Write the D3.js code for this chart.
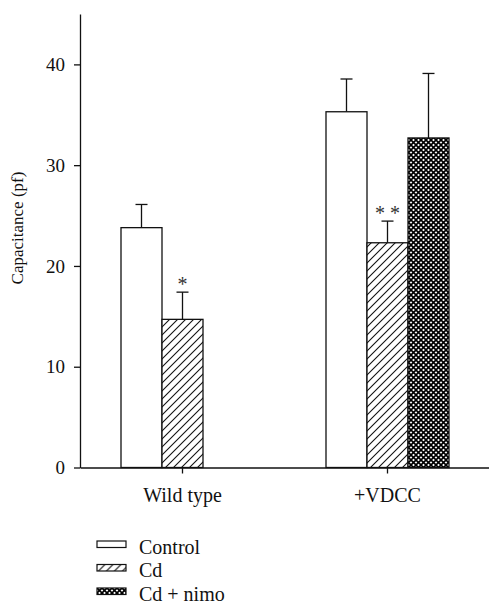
<!DOCTYPE html>
<html>
<head>
<meta charset="utf-8">
<script src="https://cdn.jsdelivr.net/npm/d3@7"></script>
<style>
  html, body { margin: 0; padding: 0; background: #fff; }
  svg { display: block; }
  svg text { font-family: "Liberation Serif", "Tinos", "Times New Roman", serif !important; }
</style>
</head>
<body>
<svg id="chart" width="489" height="609"></svg>
<script>
// ---- data ----
const categories = ["Wild type", "+VDCC"];
const seriesNames = ["Control", "Cd", "Cd + nimo"];
const controlValues = [23.8, 35.3];
const controlErrors = [2.3, 3.25];
const cdValues = [14.7, 22.3];
const cdErrors = [2.7, 2.15];
const nimoValues = [null, 32.7];
const nimoErrors = [null, 6.4];
const significance = [["", "*", ""], ["", "* *", ""]];
const yTicks = [0, 10, 20, 30, 40];
const yLabel = "Capacitance (pf)";

const seriesValues = [controlValues, cdValues, nimoValues];
const seriesErrors = [controlErrors, cdErrors, nimoErrors];

const svg = d3.select("#chart");
const defs = svg.append("defs");

// patterns
const hatch = defs.append("pattern").attr("id", "hatch")
  .attr("patternUnits", "userSpaceOnUse").attr("width", 8).attr("height", 8);
hatch.append("rect").attr("width", 8).attr("height", 8).attr("fill", "#fff");
hatch.append("path").attr("d", "M-2,2 L2,-2 M0,8 L8,0 M6,10 L10,6")
  .attr("stroke", "#111").attr("stroke-width", 1.1);

const cross = defs.append("pattern").attr("id", "cross")
  .attr("patternUnits", "userSpaceOnUse").attr("width", 5).attr("height", 5);
cross.append("rect").attr("width", 5).attr("height", 5).attr("fill", "#fff");
cross.append("path").attr("d", "M0,0 L5,5 M0,5 L5,0")
  .attr("stroke", "#000").attr("stroke-width", 1.6);

const fills = ["#fff", "url(#hatch)", "url(#cross)"];

// scales
const x0 = d3.scaleBand().domain(categories).range([80, 490]).padding(0);
const groupW = 123;
const x1 = d3.scaleBand().domain(d3.range(3)).range([0, groupW]).padding(0);
const y = d3.scaleLinear().domain([0, 45]).range([467.5, 14]);

// axes
const yAxis = d3.axisLeft(y).tickValues(yTicks).tickSize(6).tickPadding(9).tickSizeOuter(0);
const gy = svg.append("g").attr("transform", "translate(80,0)").call(yAxis);
gy.attr("font-family", null);
gy.select(".domain").attr("stroke", "#111").attr("stroke-width", 1.3);
gy.selectAll(".tick line").attr("stroke", "#111").attr("stroke-width", 1.3);
gy.selectAll(".tick text").attr("font-size", 19).attr("fill", "#111");

// bars
categories.forEach((cat, ci) => {
  const gx = x0(cat) + (x0.bandwidth() - groupW) / 2;
  const g = svg.append("g").attr("transform", `translate(${gx},0)`);
  seriesValues.forEach((vals, si) => {
    const v = vals[ci];
    if (v == null) return;
    const bx = x1(si), bw = x1.bandwidth();
    const cx = bx + bw / 2;
    const eTop = y(v + seriesErrors[si][ci]);
    g.append("line").attr("x1", cx).attr("x2", cx).attr("y1", y(v)).attr("y2", eTop)
      .attr("stroke", "#111").attr("stroke-width", 1.3);
    g.append("line").attr("x1", cx - 6).attr("x2", cx + 6).attr("y1", eTop).attr("y2", eTop)
      .attr("stroke", "#111").attr("stroke-width", 1.3);
    g.append("rect").attr("x", bx).attr("y", y(v)).attr("width", bw).attr("height", y(0) - y(v))
      .attr("fill", fills[si]).attr("stroke", "#111").attr("stroke-width", 1.3);
    const s = significance[ci][si];
    if (s) {
      g.append("text").attr("x", cx).attr("y", eTop - 1).attr("text-anchor", "middle")
        .attr("font-size", 20).attr("fill", "#333").text(s);
    }
  });
});

// x axis
const xAxis = d3.axisBottom(x0).tickSize(6).tickPadding(14).tickSizeOuter(0);
const gxAxis = svg.append("g").attr("transform", `translate(0,${y(0)})`).call(xAxis);
gxAxis.attr("font-family", null);
gxAxis.select(".domain").attr("stroke", "#111").attr("stroke-width", 1.3);
gxAxis.selectAll(".tick line").attr("stroke", "#111").attr("stroke-width", 1.3);
gxAxis.selectAll(".tick text").attr("font-size", 20).attr("fill", "#111");

// y label
svg.append("text").attr("transform", "translate(23,228) rotate(-90)")
  .attr("text-anchor", "middle").attr("font-size", 17).attr("fill", "#111").text(yLabel);

// legend
const legend = svg.append("g").attr("transform", "translate(97,541)");
seriesNames.forEach((name, i) => {
  const row = legend.append("g").attr("transform", `translate(0,${i * 23.5})`);
  row.append("rect").attr("width", 29).attr("height", 6.5)
    .attr("fill", fills[i]).attr("stroke", "#111").attr("stroke-width", 1.2);
  row.append("text").attr("x", 42).attr("y", 12.5).attr("font-size", 20)
    .attr("fill", "#111").text(name);
});
</script>
</body>
</html>
